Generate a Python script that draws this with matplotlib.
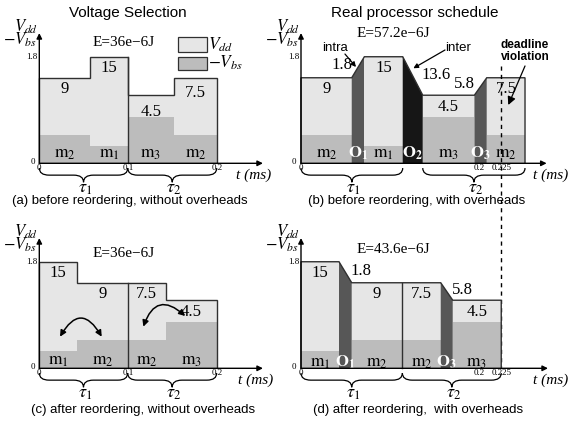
import numpy as np
import matplotlib
matplotlib.use('Agg')
import matplotlib.pyplot as plt
from matplotlib.patches import Polygon, Rectangle, FancyArrowPatch, PathPatch
from matplotlib.path import Path

plt.rcParams['mathtext.fontset'] = 'stix'
SERIF = 'Liberation Serif'
SANS = 'Liberation Sans'

# ---------------- data ----------------
a_tasks = ['m2', 'm1', 'm3', 'm2']
a_dur = [0.057, 0.0424, 0.052, 0.048]
a_vdd = [1.445, 1.8, 1.15, 1.445]
a_vbs = [0.48, 0.30, 0.79, 0.48]
a_energy = ['9', '15', '4.5', '7.5']

b_tasks = ['m2', 'O1', 'm1', 'O2', 'm3', 'O3', 'm2']
b_dur = [0.057, 0.0142, 0.0431, 0.0225, 0.058, 0.0139, 0.043]
b_vdd = [1.445, None, 1.8, None, 1.15, None, 1.445]
b_vbs = [0.48, None, 0.30, None, 0.79, None, 0.48]
b_energy = ['9', '1.8', '15', '13.6', '4.5', '5.8', '7.5']

c_tasks = ['m1', 'm2', 'm2', 'm3']
c_dur = [0.0427, 0.0566, 0.0427, 0.0573]
c_vdd = [1.8, 1.445, 1.445, 1.15]
c_vbs = [0.29, 0.48, 0.48, 0.79]
c_energy = ['15', '9', '7.5', '4.5']

d_tasks = ['m1', 'O1', 'm2', 'm2', 'O3', 'm3']
d_dur = [0.0427, 0.0143, 0.0569, 0.0431, 0.0135, 0.0545]
d_vdd = [1.8, None, 1.445, 1.445, None, 1.15]
d_vbs = [0.29, None, 0.48, 0.48, None, 0.79]
d_energy = ['15', '1.8', '9', '7.5', '5.8', '4.5']

energy_totals = ['E=36e\u22126J', 'E=57.2e\u22126J', 'E=36e\u22126J', 'E=43.6e\u22126J']
tau_groups = [((0, 1), (2, 3)), ((0, 2), (4, 6)), ((0, 1), (2, 3)), ((0, 2), (3, 5))]
xticks = [[0, 0.1, 0.2], [0, 0.2, 0.225], [0, 0.1, 0.2], [0, 0.2, 0.225]]
xtick_labels = [['0', '0.1', '0.2'], ['0', '0.2', '0.225'], ['0', '0.1', '0.2'], ['0', '0.2', '0.225']]
captions = ['(a) before reordering, without overheads', '(b) before reordering, with overheads',
            '(c) after reordering, without overheads', '(d) after reordering,  with overheads']
deadline = 0.225

# ---------------- style / layout ----------------
W, H = 571, 428
PX, PY = 890.0, 59.2
LIGHT = '#e6e6e6'
MID = '#bcbcbc'
INTRA = '#575757'
INTER = '#161616'
EDGE = '#303030'

fig = plt.figure(figsize=(W / 100, H / 100), dpi=100)

boxes = [(0, 0, 286, 214), (286, 0, 285, 214), (0, 214, 286, 214), (286, 214, 285, 214)]
origins = [(39.3, 163.3), (301.0, 163.3), (39.3, 368.3), (301.0, 368.3)]
xarrow_end = [0.2513, 0.276, 0.2513, 0.2775]
tlabel_x = [0.241, 0.2805, 0.243, 0.2805]
mlabel_y = [0.17, 0.17, 0.14, 0.11]
num_dy = {4.5: -0.14, 7.5: -0.12}


def make_ax(box, origin):
    x0, y0, w, h = box
    ox, oy = origin
    ax = fig.add_axes([x0 / W, 1 - (y0 + h) / H, w / W, h / H])
    ax.set_xlim((x0 - ox) / PX, (x0 + w - ox) / PX)
    ax.set_ylim((oy - (y0 + h)) / PY, (oy - y0) / PY)
    ax.axis('off')
    return ax


def brace(ax, x0, x1, y0=-0.08, h=0.24, rx=0.011):
    xm = (x0 + x1) / 2
    ym = y0 - h / 2
    verts = [(x0, y0), (x0, ym), (x0 + rx, ym), (xm - rx, ym), (xm, ym), (xm, y0 - h),
             (xm, ym), (xm + rx, ym), (x1 - rx, ym), (x1, ym), (x1, y0)]
    codes = [Path.MOVETO, Path.CURVE3, Path.CURVE3, Path.LINETO, Path.CURVE3, Path.CURVE3,
             Path.CURVE3, Path.CURVE3, Path.LINETO, Path.CURVE3, Path.CURVE3]
    ax.add_patch(PathPatch(Path(verts, codes), fc='none', ec='black', lw=0.9, clip_on=False))


def draw_panel(k, tasks, dur, vdd, vbs, energy):
    ax = make_ax(boxes[k], origins[k])
    starts = np.concatenate([[0], np.cumsum(dur)[:-1]])
    ends = np.cumsum(dur)
    top = [(0, 0)]
    for i, t in enumerate(tasks):
        s, e = starts[i], ends[i]
        if t.startswith('O'):
            yl, yr = vdd[i - 1], vdd[i + 1]
            col = INTER if t == 'O2' else INTRA
            ax.add_patch(Polygon([(s, 0), (s, yl), (e, yr), (e, 0)], closed=True, fc=col, ec='none'))
            top += [(s, yl), (e, yr)]
            ax.text((s + e) / 2, mlabel_y[k], r'$\mathbf{O}_{\mathbf{%s}}$' % t[1:], color='white',
                    ha='center', va='center', fontsize=12)
            mid = (yl + yr) / 2
            if yr > yl:
                ax.text(s + 0.001, mid + 0.04, energy[i], ha='right', va='center', family=SERIF, fontsize=12)
            else:
                ax.text(e - 0.001, mid + 0.02, energy[i], ha='left', va='center', family=SERIF, fontsize=12)
        else:
            ax.add_patch(Rectangle((s, 0), e - s, vdd[i], fc=LIGHT, ec='none'))
            ax.add_patch(Rectangle((s, 0), e - s, vbs[i], fc=MID, ec='none'))
            top += [(s, vdd[i]), (e, vdd[i])]
            ax.text((s + e) / 2, mlabel_y[k], r'$\mathrm{m}_{%s}$' % t[1:], ha='center', va='center',
                    fontsize=12.5)
            dy = num_dy.get(float(energy[i]), -0.06) if k == 0 else -0.06
            ax.text((s + e) / 2, vdd[i] + dy, energy[i], ha='center', va='top', family=SERIF, fontsize=12)
    top += [(ends[-1], 0)]
    xs, ys = zip(*top)
    ax.plot(xs, ys, color=EDGE, lw=1.0, solid_joinstyle='miter')
    (t1a, t1b), (t2a, t2b) = tau_groups[k]
    if t1b + 1 == t2a:
        xb = ends[t1b]
        ax.plot([xb, xb], [0, max(vdd[t1b], vdd[t2a])], color=EDGE, lw=1.0)
    brace(ax, starts[t1a], ends[t1b])
    brace(ax, starts[t2a], ends[t2b])
    ax.text((starts[t1a] + ends[t1b]) / 2 + 0.002, -0.41, r'$\tau_1$', ha='center', va='center', fontsize=13)
    ax.text((starts[t2a] + ends[t2b]) / 2 + 0.002, -0.41, r'$\tau_2$', ha='center', va='center', fontsize=13)
    ax.annotate('', xy=(0, 2.2), xytext=(0, 0),
                arrowprops=dict(arrowstyle='-|>', lw=1.0, color='black', mutation_scale=8,
                                shrinkA=0, shrinkB=0))
    ax.annotate('', xy=(xarrow_end[k], 0), xytext=(0, 0),
                arrowprops=dict(arrowstyle='-|>', lw=1.0, color='black', mutation_scale=8,
                                shrinkA=0, shrinkB=0))
    ax.text(-0.002, 1.8, '1.8', ha='right', va='center', family=SERIF, fontsize=6.5)
    ax.text(-0.005, 0.03, '0', ha='right', va='center', family=SERIF, fontsize=6.5)
    for xv, xl in zip(xticks[k], xtick_labels[k]):
        ax.text(xv, -0.075, xl, ha='center', va='center', family=SERIF, fontsize=6.5)
    ax.text(-0.001, 2.31, r'$V_{dd}$', ha='right', va='center', fontsize=12)
    ax.text(-0.003, 2.08, r'$-V_{bs}$', ha='right', va='center', fontsize=12)
    ax.text(tlabel_x[k], -0.2, 't (ms)', ha='center', va='center',
            family=SERIF, style='italic', fontsize=11)
    return ax


axa = draw_panel(0, a_tasks, a_dur, a_vdd, a_vbs, a_energy)
axb = draw_panel(1, b_tasks, b_dur, b_vdd, b_vbs, b_energy)
axc = draw_panel(2, c_tasks, c_dur, c_vdd, c_vbs, c_energy)
axd = draw_panel(3, d_tasks, d_dur, d_vdd, d_vbs, d_energy)

# total energies
axa.text(0.0944, 2.04, energy_totals[0], ha='center', va='center', family=SERIF, fontsize=11)
axb.text(0.1034, 2.2, energy_totals[1], ha='center', va='center', family=SERIF, fontsize=11)
axc.text(0.0944, 1.94, energy_totals[2], ha='center', va='center', family=SERIF, fontsize=11)
axd.text(0.1037, 2.01, energy_totals[3], ha='center', va='center', family=SERIF, fontsize=11)

# legend in (a)
axa.add_patch(Rectangle((0.156, 1.885), 0.032, 0.254, fc=LIGHT, ec=EDGE, lw=0.9))
axa.add_patch(Rectangle((0.156, 1.576), 0.032, 0.224, fc=MID, ec=EDGE, lw=0.9))
axa.text(0.19, 2.01, r'$V_{dd}$', ha='left', va='center', fontsize=12.5)
axa.text(0.19, 1.69, r'$-V_{bs}$', ha='left', va='center', fontsize=12.5)

# annotations in (b)
axb.text(0.038, 1.95, 'intra', ha='center', va='center', family=SANS, fontsize=9.5)
axb.annotate('', xy=(0.0618, 1.627), xytext=(0.0494, 1.846),
             arrowprops=dict(arrowstyle='-|>', lw=0.9, color='black', mutation_scale=7, shrinkA=0, shrinkB=0))
axb.text(0.176, 1.95, 'inter', ha='center', va='center', family=SANS, fontsize=9.5)
axb.annotate('', xy=(0.1262, 1.605), xytext=(0.1618, 1.914),
             arrowprops=dict(arrowstyle='-|>', lw=0.9, color='black', mutation_scale=7, shrinkA=0, shrinkB=0))
axb.text(0.2517, 1.9, 'deadline\nviolation', ha='center', va='center', family=SANS, fontweight='bold',
         fontsize=8.5, linespacing=1.0)
axb.annotate('', xy=(0.2329, 0.985), xytext=(0.2517, 1.644),
             arrowprops=dict(arrowstyle='-|>', lw=0.9, color='black', mutation_scale=12, shrinkA=0, shrinkB=0))
axb.plot([deadline, deadline], [1.64, -3.436], color='black', lw=1.0, ls=(0, (3, 3)), clip_on=False)

# curved swap arrows in (c)
for (p0, p1, rad) in [((0.0233, 0.534), (0.0701, 0.534), -0.86), ((0.1169, 0.703), (0.1639, 0.883), -0.75)]:
    axc.add_patch(FancyArrowPatch(p0, p1, connectionstyle='arc3,rad=%s' % rad, arrowstyle='<|-|>',
                                  mutation_scale=9, lw=1.1, color='black', shrinkA=0, shrinkB=0))


def ftext(xp, yp, s, **kw):
    fig.text(xp / W, 1 - yp / H, s, ha='center', va='center', family=SANS, **kw)


ftext(128, 13, 'Voltage Selection', fontsize=11)
ftext(415, 13, 'Real processor schedule', fontsize=11)
ftext(130, 201, captions[0], fontsize=9.5)
ftext(417, 201, captions[1], fontsize=9.5)
ftext(143, 410, captions[2], fontsize=9.5)
ftext(418, 410, captions[3], fontsize=9.5)

fig.savefig('out.png', dpi=100)
